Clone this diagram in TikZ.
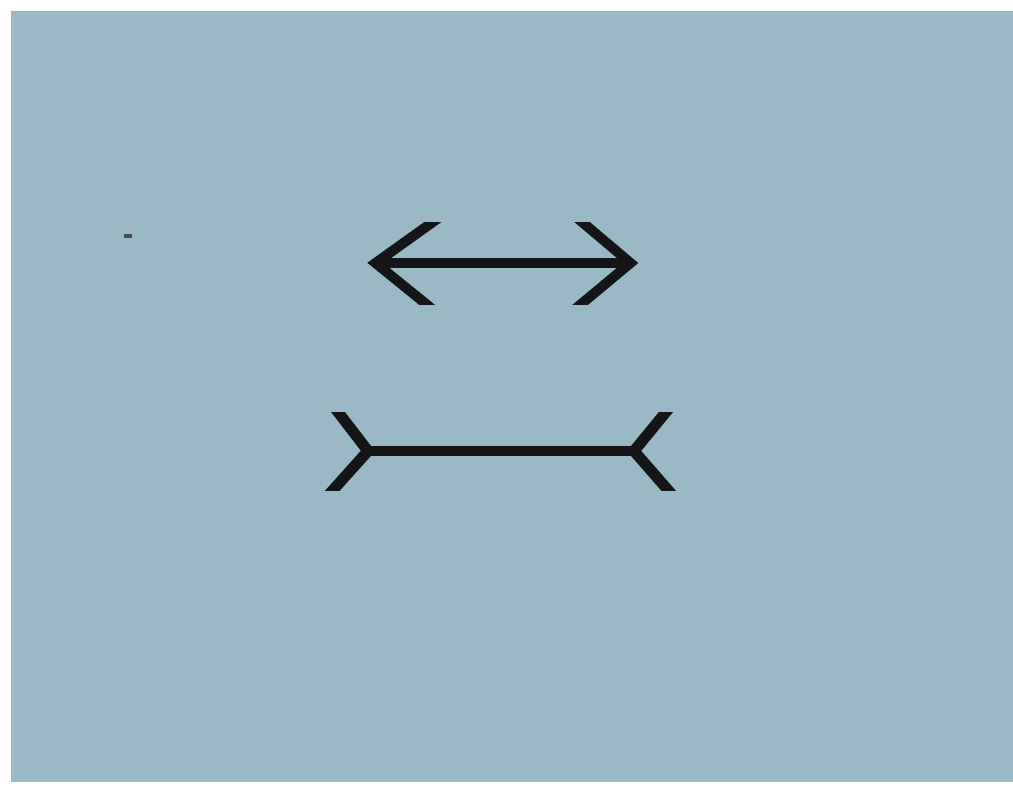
\documentclass[tikz,border=0pt]{standalone}
\definecolor{bg}{RGB}{153,185,198}
\definecolor{ink}{RGB}{20,21,22}
\tikzset{fin/.style={ink, line width=10pt, line join=miter, line cap=butt},
         wfin/.style={ink, line width=11pt, line join=miter, line cap=butt},
         shaft/.style={ink, line width=9.5pt}}
\begin{document}
\begin{tikzpicture}[x=1pt,y=-1pt]
\useasboundingbox (0,0) rectangle (1013,788);
\fill[white] (0,0) rectangle (1013,788);
\fill[bg] (11,11) rectangle (1013,782);
% speck
\fill[ink!75] (124,234) rectangle (132,238);
% top figure: arrowheads outward
\coordinate (tl) at (375.5,263);
\coordinate (tr) at (630.5,263);
\draw[shaft] (tl) -- (tr);
\begin{scope}
\clip (300,222.5) rectangle (700,304.5);
\draw[fin] (445.5,213) -- (tl) -- (438.4,314);
\draw[fin] (570.2,212) -- (tr) -- (568,315);
\end{scope}
% bottom figure: fins inward
\coordinate (bl) at (368,451);
\coordinate (br) at (634,451);
\draw[shaft] (bl) -- (br);
\begin{scope}
\clip (300,412) rectangle (700,490);
\draw[wfin] (330.3,402) -- (bl) -- (324,500);
\draw[wfin] (674.2,402) -- (br) -- (676.7,500);
\end{scope}
\end{tikzpicture}
\end{document}
